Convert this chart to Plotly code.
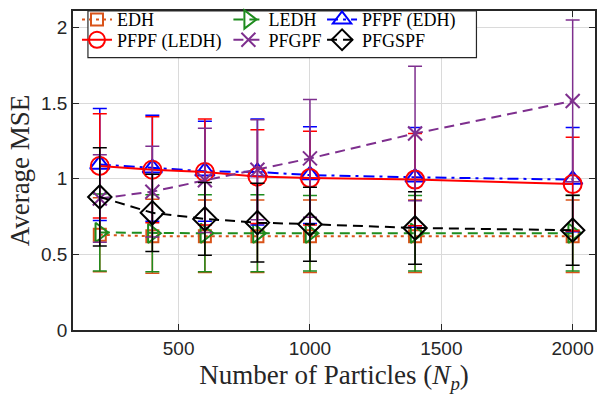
import plotly.graph_objects as go

# ---- data ----
N_particles = [200, 400, 600, 800, 1000, 1400, 2000]

edh_mean = [0.63, 0.62, 0.62, 0.62, 0.62, 0.62, 0.62]
edh_err = [0.245, 0.245, 0.24, 0.24, 0.24, 0.24, 0.24]

ledh_mean = [0.645, 0.64, 0.64, 0.64, 0.64, 0.64, 0.64]
ledh_err = [0.255, 0.255, 0.255, 0.255, 0.25, 0.25, 0.25]

pfpf_edh_mean = [1.095, 1.07, 1.05, 1.045, 1.025, 1.01, 0.995]
pfpf_edh_err = [0.37, 0.35, 0.33, 0.35, 0.32, 0.33, 0.345]

pfpf_ledh_mean = [1.085, 1.06, 1.045, 1.015, 1.005, 0.995, 0.965]
pfpf_ledh_err = [0.345, 0.35, 0.35, 0.31, 0.31, 0.305, 0.31]

pfgpf_mean = [0.87, 0.915, 0.99, 1.06, 1.135, 1.30, 1.515]
pfgpf_err = [0.29, 0.30, 0.345, 0.33, 0.39, 0.445, 0.535]

pfgspf_mean = [0.88, 0.775, 0.735, 0.71, 0.70, 0.675, 0.66]
pfgspf_err = [0.325, 0.255, 0.24, 0.26, 0.245, 0.24, 0.232]

y_tick_vals = [0, 0.5, 1, 1.5, 2]
y_tick_text = ["0", "0.5", "1", "1.5", "2"]
x_tick_vals = [500, 1000, 1500, 2000]
x_tick_text = ["500", "1000", "1500", "2000"]

series = [
    ("EDH", edh_mean, edh_err, "#D95319", "3px,4px", "square-open", 12, "legend"),
    ("LEDH", ledh_mean, ledh_err, "#1E8C1E", "10px,6px", "triangle-right-open", 17, "legend2"),
    ("PFPF (EDH)", pfpf_edh_mean, pfpf_edh_err, "#0000FF", "11px,5px,3px,5px", "triangle-up-open", 17, "legend3"),
    ("PFPF (LEDH)", pfpf_ledh_mean, pfpf_ledh_err, "#FF0000", "solid", "circle-open", 18, "legend4"),
    ("PFGPF", pfgpf_mean, pfgpf_err, "#7E2F8E", "10px,6px", "x-thin-open", 14, "legend5"),
    ("PFGSPF", pfgspf_mean, pfgspf_err, "#000000", "10px,6px", "diamond-open", 18, "legend6"),
]

fig = go.Figure()
for name, y, e, color, dash, symbol, size, lg in series:
    fig.add_trace(go.Scatter(
        x=N_particles, y=y, mode="lines+markers", name=name, legend=lg,
        line=dict(color=color, width=2, dash=dash),
        marker=dict(symbol=symbol, size=size, color=color,
                    line=dict(color=color, width=2)),
        error_y=dict(type="data", array=e, visible=True, color=color,
                     thickness=1.5, width=7),
    ))

axis_col = "#262626"
grid_col = "#DADADA"
tick_font = dict(family="Liberation Sans, Arial, sans-serif", size=19, color=axis_col)
serif = "Liberation Serif, Times New Roman, serif"

fig.update_layout(
    width=598, height=398,
    margin=dict(l=73, r=1, t=1, b=68),
    paper_bgcolor="white", plot_bgcolor="white",
    showlegend=True,
    xaxis=dict(
        range=[98, 2085], tickvals=x_tick_vals, ticktext=x_tick_text,
        showgrid=True, gridcolor=grid_col, gridwidth=1,
        showline=True, linecolor=axis_col, linewidth=1.5, mirror="ticks",
        ticks="inside", ticklen=6, tickcolor=axis_col, tickwidth=1,
        tickfont=tick_font, zeroline=False,
        title=dict(text="Number of Particles (<i>N<sub>p</sub></i>)",
                   font=dict(family=serif, size=27, color=axis_col), standoff=8),
    ),
    yaxis=dict(
        range=[0, 2.11], tickvals=y_tick_vals, ticktext=y_tick_text,
        showgrid=True, gridcolor=grid_col, gridwidth=1,
        showline=True, linecolor=axis_col, linewidth=1.5, mirror="ticks",
        ticks="inside", ticklen=6, tickcolor=axis_col, tickwidth=1,
        tickfont=tick_font, zeroline=False,
        title=dict(text="Average MSE",
                   font=dict(family=serif, size=27, color=axis_col), standoff=4),
    ),
    shapes=[dict(type="rect", xref="paper", yref="paper",
                 x0=(88 - 73) / 524, x1=(478 - 73) / 524,
                 y0=(330 - 49) / 329, y1=1.0,
                 fillcolor="white", line=dict(color=axis_col, width=1.2),
                 layer="above")],
)

leg_common = dict(orientation="v", yanchor="middle", xanchor="left",
                  bgcolor="rgba(0,0,0,0)", borderwidth=0,
                  font=dict(family=serif, size=18, color="black"),
                  tracegroupgap=0, itemsizing="trace")
col_x = [(77 - 73) / 524, (229 - 73) / 524, (323 - 73) / 524]
row_y = [(330 - 10) / 329, (330 - 31) / 329]
fig.update_layout(
    legend=dict(x=col_x[0], y=row_y[0], **leg_common),
    legend2=dict(x=col_x[1], y=row_y[0], **leg_common),
    legend3=dict(x=col_x[2], y=row_y[0], **leg_common),
    legend4=dict(x=col_x[0], y=row_y[1], **leg_common),
    legend5=dict(x=col_x[1], y=row_y[1], **leg_common),
    legend6=dict(x=col_x[2], y=row_y[1], **leg_common),
)

fig.write_html("out.html", config={"displayModeBar": False},
               post_script="document.body.style.margin='0';document.body.style.padding='0';")
